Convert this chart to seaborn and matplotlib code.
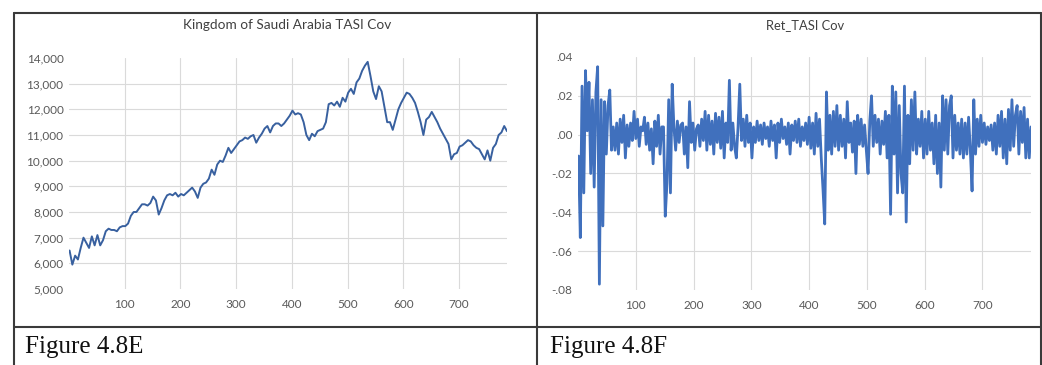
import matplotlib.pyplot as plt
import numpy as np
import seaborn as sns
from matplotlib.lines import Line2D

# TASI index level, read every 5th observation starting at obs 1
tasi_step = 5
tasi = [
    6500, 5950, 6300, 6150, 6600, 7000, 6800, 6600, 7050, 6700,
    7100, 6700, 6900, 7250, 7350, 7300, 7300, 7250, 7400, 7450,
    7450, 7550, 7850, 8000, 8000, 8150, 8300, 8300, 8250, 8350,
    8600, 8450, 7900, 8150, 8450, 8650, 8700, 8650, 8750, 8600,
    8700, 8650, 8750, 8850, 8950, 8800, 8550, 8950, 9100, 9150,
    9300, 9650, 9450, 9850, 10000, 9950, 10200, 10500, 10300, 10450,
    10600, 10750, 10800, 10900, 10850, 10950, 11000, 10700, 10900, 11050,
    11250, 11350, 11100, 11350, 11450, 11450, 11350, 11450, 11600, 11750,
    11950, 11800, 11850, 11800, 11500, 11000, 10800, 11050, 10950, 11150,
    11200, 11250, 11500, 12200, 12250, 12150, 12300, 12100, 12450, 12300,
    12650, 12800, 12600, 13050, 13200, 13500, 13700, 13850, 13300, 12700,
    12400, 12900, 12700, 12100, 11500, 11500, 11200, 11600, 12000, 12250,
    12450, 12650, 12600, 12450, 12250, 11900, 11500, 11000, 11600, 11700,
    11900, 11700, 11500, 11250, 11050, 10850, 10650, 10050, 10250, 10300,
    10550, 10600, 10700, 10800, 10750, 10600, 10500, 10450, 10250, 10050,
    10400, 10000, 10500, 10650, 11000, 11100, 11350, 11150,
]

# TASI returns, read every 3rd observation starting at obs 1
ret_step = 3
ret = [
    -0.011, -0.053, 0.025, -0.030, 0.033, 0.002, 0.027, -0.020, 0.018, -0.027,
    0.022, 0.035, -0.077, 0.018, -0.047, 0.017, -0.010, 0.015, 0.023, -0.008,
    0.004, -0.008, 0.006, -0.010, 0.008, -0.004, 0.010, -0.012, 0.005, -0.006,
    0.006, -0.003, 0.012, -0.002, 0.008, -0.006, 0.004, 0.002, 0.009, -0.005,
    0.006, -0.008, 0.003, -0.015, 0.007, -0.006, 0.010, -0.010, 0.004, 0.004,
    -0.042, -0.025, 0.018, -0.030, 0.026, 0.004, -0.008, 0.007, -0.004, 0.005,
    0.006, -0.010, 0.004, -0.017, 0.017, -0.004, 0.006, -0.008, 0.003, 0.005,
    -0.006, 0.008, -0.003, 0.012, -0.008, 0.010, -0.005, 0.007, -0.010, 0.011,
    -0.004, 0.009, -0.007, 0.012, -0.012, 0.006, -0.004, 0.028, -0.008, 0.006,
    -0.006, -0.012, 0.004, 0.026, -0.003, 0.008, -0.006, 0.010, -0.004, 0.006,
    -0.012, 0.004, -0.004, 0.007, -0.003, 0.005, -0.005, 0.006, -0.002, 0.004,
    -0.006, 0.007, -0.003, 0.005, -0.012, 0.006, -0.004, 0.008, -0.002, 0.004,
    -0.005, 0.006, -0.010, 0.005, -0.003, 0.007, -0.004, 0.008, -0.006, 0.004,
    -0.003, 0.006, -0.005, 0.009, -0.007, 0.006, -0.010, 0.011, -0.006, 0.008,
    -0.012, -0.028, -0.046, 0.022, -0.008, 0.010, -0.010, 0.012, -0.006, 0.015,
    -0.008, 0.010, -0.006, 0.008, -0.012, 0.017, -0.004, 0.006, -0.009, 0.007,
    -0.020, 0.010, -0.005, 0.008, -0.006, 0.005, -0.008, -0.020, 0.007, 0.020,
    -0.006, 0.010, -0.004, 0.008, -0.010, 0.007, -0.005, 0.012, -0.012, 0.010,
    -0.041, 0.025, -0.010, 0.022, -0.030, 0.015, -0.020, -0.030, 0.025, -0.045,
    0.010, -0.015, 0.018, -0.008, 0.022, -0.010, 0.008, -0.006, 0.012, -0.012,
    0.008, -0.010, 0.012, -0.008, 0.006, -0.015, 0.010, -0.020, 0.006, -0.027,
    0.020, -0.008, 0.018, -0.010, 0.015, 0.020, -0.012, 0.010, -0.008, 0.006,
    -0.010, 0.008, -0.012, 0.006, -0.010, 0.009, -0.008, -0.029, 0.018, -0.010,
    0.008, -0.006, 0.010, -0.004, 0.006, -0.005, 0.004, -0.003, 0.005, -0.008,
    0.006, -0.010, 0.010, -0.006, 0.012, -0.012, 0.008, -0.015, 0.013, -0.008,
    0.018, -0.006, 0.010, 0.015, -0.010, 0.012, -0.004, 0.014, -0.012, 0.008,
    -0.012, 0.004,
]

x_ticks = [100, 200, 300, 400, 500, 600, 700]
tasi_yticks = list(range(5000, 14001, 1000))
ret_yticks = [-0.08, -0.06, -0.04, -0.02, 0.00, 0.02, 0.04]

x_tasi = 1 + tasi_step * np.arange(len(tasi))
x_ret = 1 + ret_step * np.arange(len(ret))

sns.set_style("white")
plt.rcParams['font.family'] = ['Lato', 'DejaVu Sans']

W, H = 1042, 365
fig = plt.figure(figsize=(W / 100, H / 100), dpi=100)


def box(l, t, r, b):
    return [l / W, 1 - b / H, (r - l) / W, (b - t) / H]


ax1 = fig.add_axes(box(69, 58, 507, 289))
ax2 = fig.add_axes(box(578, 57, 1031, 290))

sns.lineplot(x=x_tasi, y=tasi, ax=ax1, color='#38609f', linewidth=1.4)
sns.lineplot(x=x_ret, y=ret, ax=ax2, color='#4070bd', linewidth=2.0)

ax1.set_xlim(0, 786)
ax1.set_ylim(5000, 14000)
ax1.set_yticks(tasi_yticks)
ax1.set_yticklabels([f"{v:,}" for v in tasi_yticks])

ax2.set_xlim(0, 784)
ax2.set_ylim(-0.08, 0.04)
ax2.set_yticks(ret_yticks)
ax2.set_yticklabels([f"{v:.2f}".replace("0.", ".") for v in ret_yticks])

for ax in (ax1, ax2):
    ax.set_xticks(x_ticks)
    ax.grid(True, color='#dadada', linewidth=0.8)
    ax.set_axisbelow(True)
    for s in ax.spines.values():
        s.set_visible(False)
    ax.tick_params(length=0, labelsize=8.5, colors='#595959')
    ax.tick_params(axis='x', pad=7)
    ax.tick_params(axis='y', pad=4)
    ygl = ax.get_ygridlines()
    ygl[0].set_visible(False)
    ygl[-1].set_visible(False)
    ax.set_xlabel("")
    ax.set_ylabel("")

fig.text(287 / W, 1 - 25 / H, "Kingdom of Saudi Arabia TASI Cov", ha='center', va='center',
         fontsize=9.8, color='#404040')
fig.text(805 / W, 1 - 25 / H, "Ret_TASI Cov", ha='center', va='center',
         fontsize=9.3, color='#404040')

fig.text(25 / W, 1 - 347 / H, "Figure 4.8E", ha='left', va='center',
         fontsize=18, family='Liberation Serif', color='#111111')
fig.text(550 / W, 1 - 347 / H, "Figure 4.8F", ha='left', va='center',
         fontsize=18, family='Liberation Serif', color='#111111')

# table borders around the two figures
border = dict(color='#3a3a3a', linewidth=1.5, transform=fig.transFigure)
fig.add_artist(Line2D([14 / W, 1041 / W], [1 - 13 / H, 1 - 13 / H], **border))
fig.add_artist(Line2D([14 / W, 1041 / W], [1 - 327 / H, 1 - 327 / H], **border))
for xv in (14, 537, 1041):
    fig.add_artist(Line2D([xv / W, xv / W], [1 - 13 / H, 0], **border))

fig.savefig("out.png", dpi=100)
